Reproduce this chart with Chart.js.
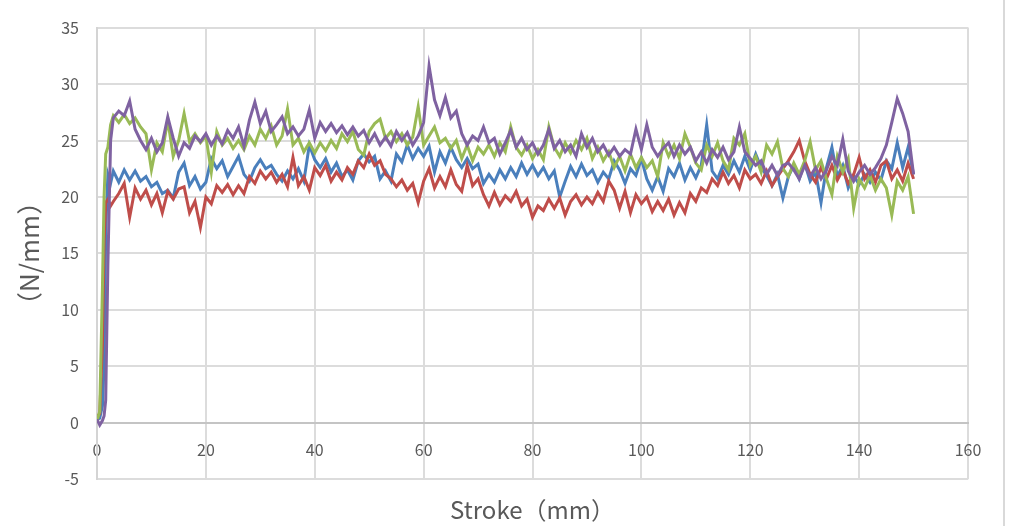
<!DOCTYPE html>
<html>
<head>
<meta charset="utf-8">
<script src="https://cdn.jsdelivr.net/npm/chart.js@4.4.1/dist/chart.umd.min.js"></script>
<style>
  html, body { margin: 0; padding: 0; background: #ffffff; }
  #wrap { position: relative; width: 1009px; height: 526px; overflow: hidden; background: #fff; }
  #frame { position: absolute; left: 1003px; top: 0; width: 2px; height: 526px; background: #d9d9d9; }
</style>
</head>
<body>
<div id="wrap">
  <canvas id="c" width="1009" height="526"></canvas>
  <div id="frame"></div>
</div>
<script>
// Stroke positions (mm), shared by all four series
const strokeX = [0, 0.5, 1, 1.3, 1.6, 2, 2.5,
  3, 4, 5, 6, 7, 8, 9,
  10, 11, 12, 13, 14, 15, 16, 17, 18, 19,
  20, 21, 22, 23, 24, 25, 26, 27, 28, 29,
  30, 31, 32, 33, 34, 35, 36, 37, 38, 39,
  40, 41, 42, 43, 44, 45, 46, 47, 48, 49,
  50, 51, 52, 53, 54, 55, 56, 57, 58, 59,
  60, 61, 62, 63, 64, 65, 66, 67, 68, 69,
  70, 71, 72, 73, 74, 75, 76, 77, 78, 79,
  80, 81, 82, 83, 84, 85, 86, 87, 88, 89,
  90, 91, 92, 93, 94, 95, 96, 97, 98, 99,
  100, 101, 102, 103, 104, 105, 106, 107, 108, 109,
  110, 111, 112, 113, 114, 115, 116, 117, 118, 119,
  120, 121, 122, 123, 124, 125, 126, 127, 128, 129,
  130, 131, 132, 133, 134, 135, 136, 137, 138, 139,
  140, 141, 142, 143, 144, 145, 146, 147, 148, 149,
  150];

const blueSeries = [0.3, 0.4, 1.5, 5, 17, 22.0, 21.2,
  22.3, 21.3, 22.4, 21.5, 22.3, 21.4, 21.8,
  20.9, 21.3, 20.3, 20.6, 19.9, 22.2, 23.0, 21.0, 21.8, 20.7,
  21.3, 23.4, 22.5, 23.2, 21.8, 22.7, 23.6, 22.0, 21.4, 22.6,
  23.3, 22.5, 22.8, 22.0, 21.4, 22.3, 21.6, 22.5, 21.4, 24.6,
  23.3, 22.6, 23.4, 22.2, 23.0, 21.8, 22.4, 21.5, 23.2, 23.8,
  23.1, 23.6, 21.6, 22.3, 21.4, 23.8, 23.1, 24.6, 23.4, 24.3,
  23.6, 24.5, 22.2, 24.0, 23.0, 24.4, 23.3, 22.6, 23.4, 22.5,
  22.9, 21.2, 22.0, 21.3, 22.4, 21.6, 22.6, 21.8, 23.0, 22.0,
  22.8, 21.9, 22.6, 21.6, 22.3, 20.0, 21.4, 22.7, 21.8, 22.9,
  21.9, 22.4, 21.3, 22.2, 21.6, 23.2, 22.4, 21.2, 22.5, 21.9,
  23.4, 21.6, 20.6, 21.8, 20.5, 22.5, 21.8, 23.0, 21.5, 22.6,
  21.7, 22.8, 26.4, 22.3, 21.6, 22.8, 22.0, 23.2, 22.2, 23.6,
  22.4, 23.8, 22.6, 21.9, 21.0, 22.0, 19.9, 21.8, 22.8, 21.6,
  23.0, 21.4, 22.2, 19.5, 22.6, 24.4, 21.8, 22.8, 20.8, 21.9,
  21.1, 22.0, 21.3, 22.2, 21.5, 23.2, 22.5, 24.8, 22.6, 24.4,
  22.0];

const redSeries = [0.5, 0.8, 7, 16, 19.5, 19.8, 19.2,
  19.6, 20.3, 21.2, 18.2, 20.8, 19.8, 20.6,
  19.3, 20.3, 18.6, 20.5, 19.8, 20.7, 20.9, 18.6, 19.6, 17.3,
  20.0, 19.4, 21.0, 20.4, 21.1, 20.2, 21.0, 20.3, 21.8, 21.2,
  22.3, 21.6, 22.2, 21.3, 22.0, 20.9, 23.5, 21.0, 21.8, 20.6,
  22.6, 21.9, 22.8, 21.4, 22.2, 21.5, 22.6, 22.0, 23.2, 22.6,
  23.8, 22.8, 23.2, 22.0, 21.6, 20.9, 21.5, 20.6, 21.2, 19.5,
  21.4, 22.5, 20.8, 21.8, 20.9, 22.4, 21.1, 20.5, 22.8, 21.0,
  21.6, 20.2, 19.2, 20.4, 19.3, 20.1, 19.6, 20.5, 19.2, 19.8,
  18.2, 19.2, 18.8, 19.8, 19.0, 19.9, 18.4, 19.6, 20.2, 19.3,
  20.0, 19.4, 20.4, 19.6, 21.4, 20.6, 19.0, 20.5, 18.6, 20.2,
  19.4, 20.0, 18.7, 19.6, 18.8, 19.8, 18.4, 19.5, 18.6, 20.3,
  19.6, 20.8, 20.4, 21.6, 21.0, 22.2, 21.2, 21.9, 20.8, 22.4,
  21.6, 22.0, 21.2, 22.3, 21.0, 21.8, 22.5, 23.2, 24.0, 25.0,
  23.2, 22.0, 21.3, 22.6, 21.6, 22.8, 21.5, 22.4, 21.2, 22.0,
  23.5, 21.6, 22.4, 21.3, 22.8, 23.2, 21.6, 22.4, 21.4, 23.0,
  21.6];

const greenSeries = [0.2, 1.0, 12, 20, 23.8, 24.4, 26.4,
  27.2, 26.6, 27.3, 26.5, 27.0, 26.2, 25.6,
  22.4, 24.8, 24.0, 26.8, 23.6, 25.0, 27.4, 24.9, 25.6, 24.8,
  25.4, 22.2, 25.8, 24.6, 25.2, 24.3, 25.0, 24.2, 25.4, 24.6,
  26.0, 25.2, 26.3, 24.6, 25.4, 27.8, 24.6, 25.2, 24.0, 24.8,
  23.9, 24.8, 24.1, 25.0, 24.3, 25.6, 24.9, 25.8, 24.2, 23.7,
  25.8, 26.5, 26.9, 25.2, 25.8, 24.9, 25.6, 24.6, 25.3, 28.0,
  24.6, 25.4, 26.2, 24.8, 25.2, 24.3, 25.0, 23.4, 24.6, 23.2,
  24.4, 23.8, 24.6, 23.6, 24.8, 24.0, 26.2, 24.4, 23.7, 24.6,
  23.4, 24.2, 23.3, 26.2, 24.4, 23.6, 24.8, 23.9, 25.0, 24.2,
  25.2, 23.4, 24.4, 23.2, 24.0, 22.6, 23.6, 22.3, 23.8, 22.6,
  23.5, 22.6, 23.2, 21.8, 24.8, 23.6, 24.6, 23.4, 25.6, 24.4,
  23.0, 22.4, 24.6, 23.6, 24.8, 23.2, 22.4, 25.2, 24.6, 25.6,
  22.8, 23.6, 22.2, 24.6, 23.8, 24.9, 22.5, 21.8, 23.0, 22.0,
  23.2, 24.9, 22.4, 23.2, 21.6, 20.2, 23.6, 22.2, 23.4, 19.0,
  21.6, 20.8, 21.9, 20.6, 21.6, 20.8, 18.4, 21.4, 20.6, 21.8,
  18.5];

const purpleSeries = [0.3, -0.2, 0.2, 0.6, 2, 14, 25.0,
  27.0, 27.6, 27.2, 28.5, 26.0, 25.0, 24.2,
  25.2, 24.0, 24.8, 27.1, 25.2, 23.6, 24.8, 24.3, 25.4, 24.9,
  25.6, 24.6, 25.4, 24.7, 25.9, 25.2, 26.2, 24.5, 26.8, 28.4,
  26.5, 27.6, 25.8, 26.4, 27.1, 25.6, 26.2, 25.4, 26.0, 27.7,
  25.2, 26.6, 25.8, 26.5, 25.7, 26.3, 25.5, 26.2, 25.4, 25.9,
  24.8, 25.6, 24.6, 25.3, 24.5, 25.8, 25.0, 25.7, 24.6, 25.4,
  26.6, 31.6, 28.6, 27.2, 28.8, 27.0, 27.6, 25.6, 24.6, 25.4,
  25.0, 26.2, 24.8, 25.2, 23.8, 24.8, 25.9, 24.4, 25.2, 24.2,
  24.8, 23.8, 24.6, 26.0, 24.3, 25.0, 24.0, 24.6, 23.6, 25.6,
  24.4, 25.2, 24.0, 24.6, 23.7, 24.4, 23.6, 24.2, 23.8, 26.0,
  24.2, 26.4, 24.4, 23.6, 24.3, 24.8, 23.6, 24.6, 23.8, 24.4,
  23.2, 24.0, 23.0, 24.2, 23.5, 24.4, 23.3, 24.0, 26.2, 24.0,
  23.4, 22.8, 23.2, 22.0, 22.8, 21.9, 22.8, 23.0, 22.4, 21.6,
  22.8, 21.8, 22.6, 21.6, 22.4, 23.6, 22.8, 25.1, 22.3, 21.4,
  22.2, 22.8, 22.0, 22.6, 23.4, 24.6, 26.6, 28.7, 27.4, 25.8,
  22.0];

const xTitle = 'Stroke（mm）';
const yTitle = '（N/mm）';

const FONT = "'Noto Sans CJK SC', 'Noto Sans', sans-serif";
const TICK_COLOR = '#595959';

function pts(ys) { return strokeX.map((x, i) => ({ x: x, y: ys[i] })); }

const mk = (data, color) => ({
  data: pts(data), borderColor: color, backgroundColor: color,
  borderWidth: 3, pointRadius: 0, tension: 0, fill: false
});

new Chart(document.getElementById('c'), {
  type: 'line',
  data: {
    datasets: [
      mk(purpleSeries, '#7f62a1'),
      mk(greenSeries, '#99ba56'),
      mk(redSeries, '#bf4d4a'),
      mk(blueSeries, '#4a7fbc')
    ]
  },
  options: {
    responsive: false,
    devicePixelRatio: 1,
    animation: false,
    layout: { padding: { left: 0, right: 41, top: 20, bottom: 0 } },
    plugins: {
      legend: { display: false },
      tooltip: { enabled: false },
      title: {
        display: true, text: xTitle, position: 'bottom', fullSize: false,
        color: TICK_COLOR, font: { family: FONT, size: 24, weight: 'normal', lineHeight: 1.2 },
        padding: { top: 16, bottom: 2 }
      }
    },
    scales: {
      x: {
        type: 'linear', min: 0, max: 160,
        position: { y: 0 },
        afterFit: (s) => { s.height = 0; },
        ticks: { stepSize: 20, color: TICK_COLOR, padding: 18, font: { family: FONT, size: 16 } },
        grid: { color: '#dcdcdc', lineWidth: 2, drawTicks: false },
        border: { display: true, color: '#c4c4c4', width: 2 }
      },
      y: {
        type: 'linear', min: -5, max: 35,
        position: 'left',
        afterFit: (s) => { s.width = 97; },
        ticks: { stepSize: 5, color: TICK_COLOR, padding: 18, font: { family: FONT, size: 16 } },
        grid: { color: '#dcdcdc', lineWidth: 2, drawTicks: false },
        border: { display: true, color: '#d4d4d4', width: 2 },
        title: {
          display: true, text: yTitle, color: TICK_COLOR,
          font: { family: FONT, size: 26, weight: 'normal', lineHeight: 1.2 },
          padding: { top: 14, bottom: 0 }
        }
      }
    }
  }
});
</script>
</body>
</html>
